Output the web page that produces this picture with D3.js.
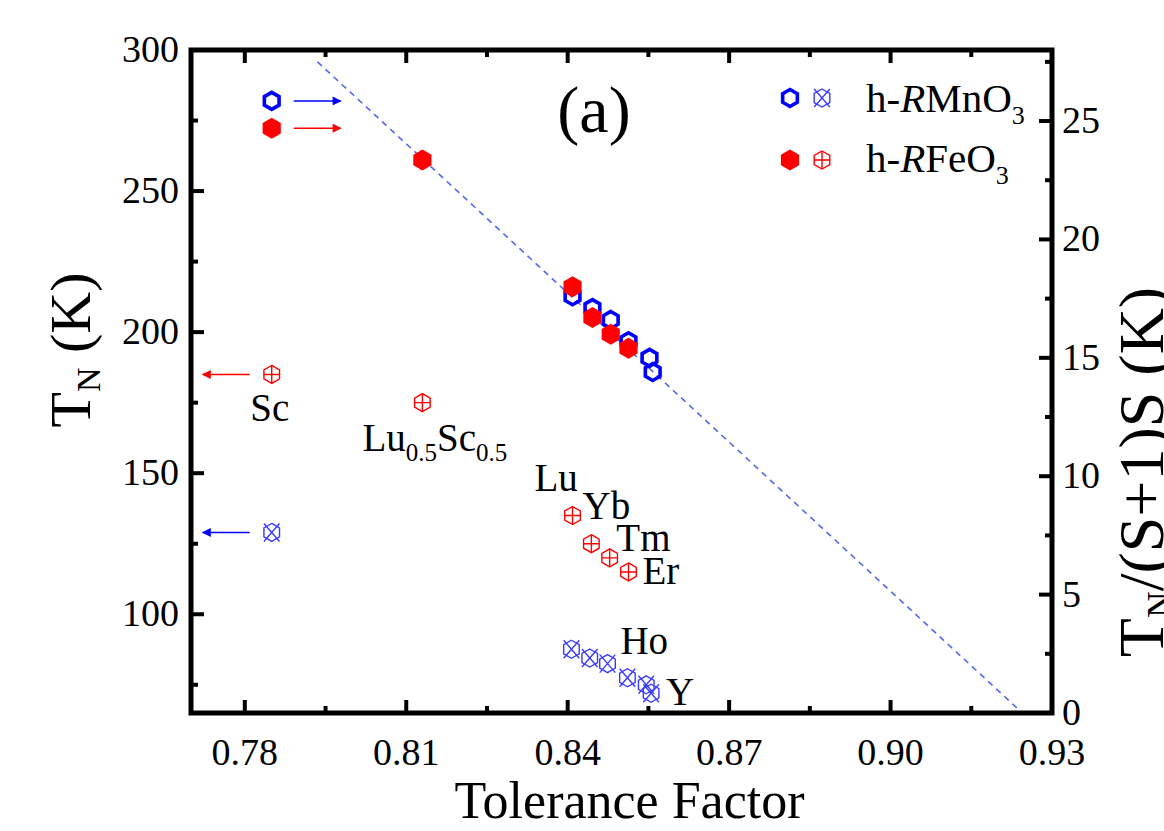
<!DOCTYPE html>
<html>
<head>
<meta charset="utf-8">
<script src="https://cdn.jsdelivr.net/npm/d3@7"></script>
<style>
  html, body { margin: 0; padding: 0; background: #fff; }
  svg { display: block; }
</style>
</head>
<body>
<svg id="chart" width="1164" height="831"></svg>
<script>
// h-RMnO3 / h-RFeO3 : T_N and T_N/(S+1)S against tolerance factor

// right axis series, T_N/(S+1)S (K)
const mnOpenTol = [0.785, 0.8409, 0.8446, 0.8480, 0.8513, 0.8552, 0.8558];
const mnOpenVal = [25.85, 17.6, 17.1, 16.6, 15.7, 15.0, 14.4];
const feFillTol = [0.785, 0.813, 0.8409, 0.8446, 0.8480, 0.8513];
const feFillVal = [24.7, 23.35, 18.0, 16.7, 16.0, 15.4];

// left axis series, T_N (K)
const mnCrossTol = [0.785, 0.8407, 0.8441, 0.8474, 0.8511, 0.8546, 0.8555];
const mnCrossTN = [129, 87.6, 84.5, 82.5, 77.5, 75, 72];
const feCrossTol = [0.785, 0.813, 0.8409, 0.8444, 0.8478, 0.8513];
const feCrossTN = [185, 175, 135, 125, 120, 115];

// dashed guide line (right axis units)
const guideTol = [0.7935, 0.9245];
const guideVal = [27.5, 0];

const xTicks = [0.78, 0.81, 0.84, 0.87, 0.90, 0.93];
const yLeftTicks = [100, 150, 200, 250, 300];
const yRightTicks = [0, 5, 10, 15, 20, 25];

const FONT = "Liberation Serif";
const svg = d3.select("#chart");
const L = 191, R = 1052, T = 50, B = 713;

const x = d3.scaleLinear().domain([0.77, 0.93]).range([L, R]);
const yL = d3.scaleLinear().domain([65, 300]).range([B, T]);
const yR = d3.scaleLinear().domain([0, 28]).range([B, T]);

const BLUE = "#0000ff", LBLUE = "#3b3bff", RED = "#ff0000";

function hexPath(r) {
    const pts = d3.range(6).map(i => {
        const a = Math.PI / 3 * i - Math.PI / 2;
        return [r * Math.cos(a), r * Math.sin(a)];
    });
    return "M" + pts.map(p => p.join(",")).join("L") + "Z";
}

const defs = svg.append("defs");
[["headBlue", BLUE], ["headRed", RED]].forEach(([id, c]) => {
    defs.append("marker")
        .attr("id", id).attr("viewBox", "0 0 10 10")
        .attr("refX", 9).attr("refY", 5)
        .attr("markerWidth", 15).attr("markerHeight", 9)
        .attr("markerUnits", "userSpaceOnUse")
        .attr("orient", "auto")
        .append("path").attr("d", "M0,0L10,5L0,10Z").attr("fill", c);
});

// dashed line
svg.append("path")
    .datum(d3.zip(guideTol, guideVal))
    .attr("fill", "none")
    .attr("stroke", "#5566ee")
    .attr("stroke-width", 1.6)
    .attr("stroke-dasharray", "6,5")
    .attr("d", d3.line().x(d => x(d[0])).y(d => yR(d[1])));

// arrows pointing to their axis
function arrow(px, py, dir, color, head) {
    const x0 = px + dir * 22, x1 = px + dir * 69;
    svg.append("line")
        .attr("x1", x0).attr("y1", py).attr("x2", x1).attr("y2", py)
        .attr("stroke", color).attr("stroke-width", 1.5)
        .attr("marker-end", `url(#${head})`);
}
arrow(x(mnOpenTol[0]), yR(mnOpenVal[0]), 1, BLUE, "headBlue");
arrow(x(feFillTol[0]), yR(feFillVal[0]), 1, RED, "headRed");
arrow(x(feCrossTol[0]), yL(feCrossTN[0]), -1, RED, "headRed");
arrow(x(mnCrossTol[0]), yL(mnCrossTN[0]), -1, BLUE, "headBlue");

// crossed markers
function crossMarker(g, color, kind) {
    const r = 9, s = r * 0.866;
    g.append("path").attr("d", hexPath(r))
        .attr("fill", "none").attr("stroke", color).attr("stroke-width", 1.4);
    g.append("path").attr("d", kind === "x"
        ? `M${-s},${-r}L${s},${r}M${-s},${r}L${s},${-r}`
        : `M${-s},0L${s},0M0,${-r}L0,${r}`)
        .attr("stroke", color).attr("stroke-width", 1.4);
}

svg.append("g").selectAll("g")
    .data(d3.zip(mnCrossTol, mnCrossTN))
    .join("g")
    .attr("transform", d => `translate(${x(d[0])},${yL(d[1])})`)
    .each(function () { crossMarker(d3.select(this), LBLUE, "x"); });

svg.append("g").selectAll("g")
    .data(d3.zip(feCrossTol, feCrossTN))
    .join("g")
    .attr("transform", d => `translate(${x(d[0])},${yL(d[1])})`)
    .each(function () { crossMarker(d3.select(this), RED, "+"); });

// open blue hexagons
svg.append("g").selectAll("path")
    .data(d3.zip(mnOpenTol, mnOpenVal))
    .join("path")
    .attr("d", hexPath(8.5))
    .attr("transform", d => `translate(${x(d[0])},${yR(d[1])})`)
    .attr("fill", "none").attr("stroke", BLUE).attr("stroke-width", 3.6);

// filled red hexagons
svg.append("g").selectAll("path")
    .data(d3.zip(feFillTol, feFillVal))
    .join("path")
    .attr("d", hexPath(10.5))
    .attr("transform", d => `translate(${x(d[0])},${yR(d[1])})`)
    .attr("fill", RED);

// frame and ticks
const frame = svg.append("g");
function ticks(vals, scale, minorStep, side) {
    const minors = [];
    for (let i = 0; i < vals.length - 1; i++) minors.push((vals[i] + vals[i + 1]) / 2);
    const dom = scale.domain();
    const lo = vals[0] - minorStep, hi = vals[vals.length - 1] + minorStep;
    if (lo >= dom[0]) minors.push(lo);
    if (hi <= dom[1]) minors.push(hi);
    const draw = (v, len) => {
        const p = scale(v);
        if (side === "bottom") frame.append("line").attr("x1", p).attr("x2", p).attr("y1", B).attr("y2", B - len);
        if (side === "top") frame.append("line").attr("x1", p).attr("x2", p).attr("y1", T).attr("y2", T + len);
        if (side === "left") frame.append("line").attr("x1", L).attr("x2", L + len).attr("y1", p).attr("y2", p);
        if (side === "right") frame.append("line").attr("x1", R).attr("x2", R - len).attr("y1", p).attr("y2", p);
    };
    vals.forEach(v => draw(v, 13));
    minors.forEach(v => draw(v, 7));
}
ticks(xTicks, x, 0.015, "bottom");
ticks(xTicks, x, 0.015, "top");
ticks(yLeftTicks, yL, 25, "left");
ticks(yRightTicks, yR, 2.5, "right");
frame.selectAll("line").attr("stroke", "#000").attr("stroke-width", 4);
frame.append("rect")
    .attr("x", L).attr("y", T).attr("width", R - L).attr("height", B - T)
    .attr("fill", "none").attr("stroke", "#000").attr("stroke-width", 5);

// all text goes into this group
const txt = svg.append("g").attr("font-family", FONT).attr("fill", "#000");
const addText = () => txt.append("text").attr("font-family", FONT);

// tick labels
const fs = 38;
xTicks.forEach(d => addText()
    .attr("x", x(d)).attr("y", B + 52)
    .attr("text-anchor", "middle").attr("font-size", fs)
    .text(d3.format(".2f")(d)));
yLeftTicks.forEach(d => addText()
    .attr("x", L - 12).attr("y", yL(d) + 12)
    .attr("text-anchor", "end").attr("font-size", fs)
    .text(d));
yRightTicks.forEach(d => addText()
    .attr("x", R + 10).attr("y", yR(d) + 12)
    .attr("text-anchor", "start").attr("font-size", fs)
    .text(d));

// axis titles
addText()
    .attr("x", (L + R) / 2 + 8).attr("y", 818)
    .attr("text-anchor", "middle").attr("font-size", 52)
    .text("Tolerance Factor");

const yt = addText()
    .attr("transform", "translate(90,350) rotate(-90)")
    .attr("text-anchor", "middle").attr("font-size", 58);
yt.append("tspan").text("T");
yt.append("tspan").attr("font-size", 34).attr("dy", 10).text("N");
yt.append("tspan").attr("dy", -10).text(" (K)");

const yt2 = addText()
    .attr("transform", "translate(1163,472) rotate(-90)")
    .attr("text-anchor", "middle").attr("font-size", 64);
yt2.append("tspan").text("T");
yt2.append("tspan").attr("font-size", 37).attr("dy", 10).text("N");
yt2.append("tspan").attr("dy", -10).text("/(S+1)S (K)");

// panel tag
addText().attr("x", 594).attr("y", 132)
    .attr("text-anchor", "middle").attr("font-size", 66).text("(a)");

// legend
const legend = svg.append("g");
const lgX = 790, lgY1 = 98, lgY2 = 160;
legend.append("path").attr("d", hexPath(8.5)).attr("transform", `translate(${lgX},${lgY1})`)
    .attr("fill", "none").attr("stroke", BLUE).attr("stroke-width", 3.6);
crossMarker(legend.append("g").attr("transform", `translate(${lgX + 32},${lgY1})`), LBLUE, "x");
legend.append("path").attr("d", hexPath(10.5)).attr("transform", `translate(${lgX},${lgY2})`)
    .attr("fill", RED);
crossMarker(legend.append("g").attr("transform", `translate(${lgX + 32},${lgY2})`), RED, "+");

function legendText(y, mid) {
    const t = addText().attr("x", 866).attr("y", y).attr("font-size", 41);
    t.append("tspan").text("h-");
    t.append("tspan").attr("font-style", "italic").text("R");
    t.append("tspan").text(mid + "O");
    t.append("tspan").attr("font-size", 26).attr("dy", 12).text("3");
}
legendText(lgY1 + 14, "Mn");
legendText(lgY2 + 12, "Fe");

// compound labels
function plain(s, px, py, anchor) {
    addText().attr("x", px).attr("y", py).attr("font-size", 39)
        .attr("text-anchor", anchor || "start").text(s);
}
plain("Sc", x(feCrossTol[0]) - 2, yL(feCrossTN[0]) + 47, "middle");
const lusc = addText().attr("font-size", 39)
    .attr("x", x(feCrossTol[1]) - 60).attr("y", yL(feCrossTN[1]) + 48);
lusc.append("tspan").text("Lu");
lusc.append("tspan").attr("font-size", 25).attr("dy", 10).text("0.5");
lusc.append("tspan").attr("dy", -10).text("Sc");
lusc.append("tspan").attr("font-size", 25).attr("dy", 10).text("0.5");
plain("Lu", x(feCrossTol[2]) - 38, yL(feCrossTN[2]) - 25);
plain("Yb", x(feCrossTol[2]) + 10, yL(feCrossTN[2]) + 3);
plain("Tm", x(feCrossTol[3]) + 25, yL(feCrossTN[3]) + 7);
plain("Er", x(feCrossTol[5]) + 14, yL(feCrossTN[5]) + 12);
plain("Ho", x(mnCrossTol[4]) - 7, yL(mnCrossTN[4]) - 24);
plain("Y", x(mnCrossTol[6]) + 15, yL(mnCrossTN[6]) + 12);
</script>
</body>
</html>
